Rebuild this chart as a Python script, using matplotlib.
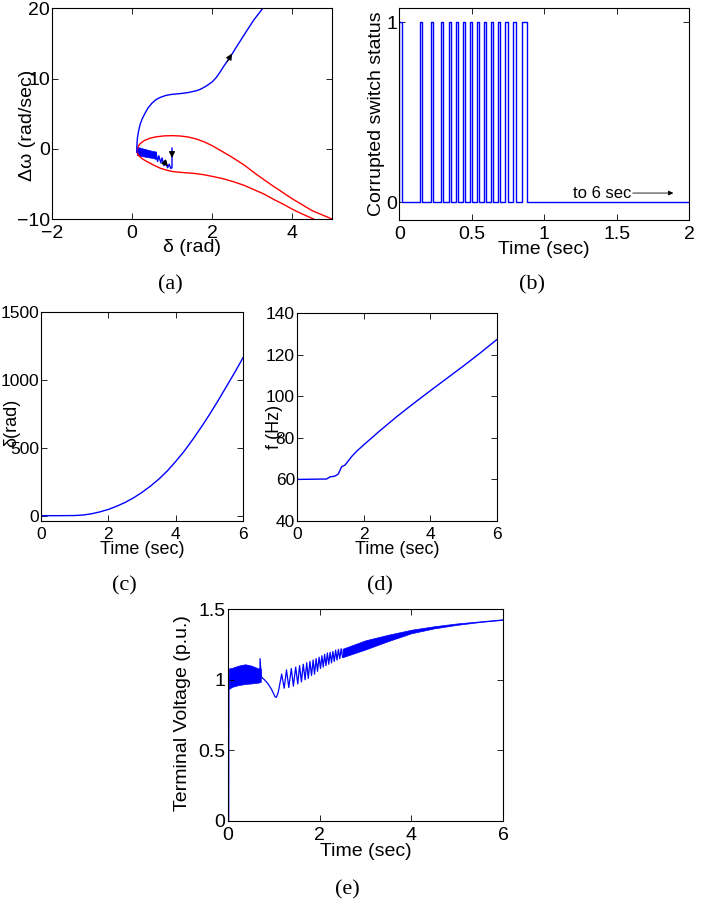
import numpy as np
import matplotlib
matplotlib.use('Agg')
import matplotlib.pyplot as plt
from matplotlib import font_manager

plt.rcParams['font.family'] = ['Liberation Sans', 'DejaVu Sans']
plt.rcParams['axes.linewidth'] = 0.8

W, H = 722, 907
BLUE = (0, 0, 1)
RED = (1, 0, 0)

# narrow font for (c)/(d) if there is one, else a smaller regular one
_names = {f.name for f in font_manager.fontManager.ttflist}
if 'Liberation Sans Narrow' in _names:
    NARROW, NARROW_SIZE = ['Liberation Sans Narrow', 'DejaVu Sans'], 14
else:
    NARROW, NARROW_SIZE = ['Liberation Sans', 'DejaVu Sans'], 12.5

# ---- (a) phase portrait ----
sep_lower_d = [4.54, 4.3, 4.04, 3.8, 3.54, 3.3, 3.04, 2.8, 2.54, 2.3, 2.04, 1.8, 1.54, 1.3,
               1.04, 0.9, 0.71, 0.55, 0.375, 0.25, 0.15, 0.12]
sep_lower_w = [-10.0, -9.4, -8.7, -7.95, -7.2, -6.45, -5.8, -5.2, -4.7, -4.3, -3.97, -3.7,
               -3.5, -3.4, -3.26, -3.1, -2.78, -2.35, -1.83, -1.4, -0.88, -0.3]
sep_upper_d = [0.15, 0.2, 0.3, 0.45, 0.6, 0.8, 1.0, 1.2, 1.4, 1.6, 1.8, 2.0, 2.2, 2.5,
               2.8, 3.1, 3.5, 4.0, 4.5, 5.0]
sep_upper_w = [0.3, 0.7, 1.15, 1.5, 1.7, 1.83, 1.87, 1.82, 1.68, 1.4, 1.0, 0.45, -0.2, -1.2,
               -2.3, -3.6, -5.2, -7.1, -8.8, -10.0]

traj_zig_d = [1.0, 1.0, 0.97, 0.93, 0.89, 0.84, 0.80, 0.75, 0.72, 0.67, 0.64, 0.60]
traj_zig_w = [0.1, -2.7, -2.8, -2.2, -2.7, -1.7, -2.4, -1.3, -2.0, -1.0, -1.8, -0.6]
band_a_d = [0.12, 0.2, 0.3, 0.4, 0.5, 0.6]
band_a_top = [0.3, 0.15, 0.0, -0.15, -0.3, -0.4]
band_a_bot = [-0.9, -1.0, -1.1, -1.2, -1.3, -1.45]
traj_up_d = [0.12, 0.122, 0.135, 0.16, 0.2, 0.25, 0.32, 0.4, 0.5, 0.6, 0.7, 0.85, 1.0, 1.2,
             1.4, 1.6, 1.71, 1.85, 2.0, 2.1, 2.2, 2.3, 2.46, 2.6, 2.79, 3.04, 3.27]
traj_up_w = [-0.5, 0.5, 1.5, 2.4, 3.4, 4.2, 5.0, 5.8, 6.5, 7.0, 7.3, 7.6, 7.75, 7.85,
             8.0, 8.25, 8.47, 8.9, 9.5, 10.1, 10.9, 11.8, 13.1, 14.4, 16.1, 18.3, 20.0]

# ---- (b) switch status: (rise, fall) times ----
pulse_rise = [0.0, 0.143, 0.218, 0.287, 0.343, 0.391, 0.439, 0.487, 0.536,
              0.584, 0.632, 0.680, 0.731, 0.786, 0.844]
pulse_fall = [0.021, 0.159, 0.234, 0.303, 0.359, 0.407, 0.455, 0.503, 0.552,
              0.600, 0.648, 0.697, 0.747, 0.802, 0.878]

# ---- (c) rotor angle ----
c_t = [0, 0.5, 1.0, 1.26, 1.5, 1.75, 2.0, 2.25, 2.5, 2.75, 3.0, 3.25, 3.5, 3.75, 4.0,
       4.25, 4.5, 4.75, 5.0, 5.25, 5.5, 5.75, 6.0]
c_delta = [0, 0, 1, 5, 14, 28, 46, 70, 98, 132, 172, 218, 270, 330, 400,
           475, 560, 650, 745, 845, 950, 1055, 1165]

# ---- (d) frequency ----
d_t = [0, 0.89, 0.99, 1.14, 1.24, 1.34, 1.44, 1.54, 1.64, 1.8, 2.0, 2.5, 3.0, 3.5, 4.0,
       4.5, 5.0, 5.5, 6.0]
d_f = [59.9, 60.1, 61.1, 61.5, 62.5, 66.0, 66.8, 68.8, 70.9, 73.6, 76.5, 83.5, 90.2, 96.5,
       102.6, 108.6, 114.6, 120.8, 127.3]

# ---- (e) terminal voltage ----
e_start_t = [0, 0.02, 0.025]
e_start_v = [0, 0, 1.02]
e_band1_t = [0.025, 0.1, 0.23, 0.38, 0.52, 0.67, 0.72]
e_band1_top = [1.08, 1.085, 1.10, 1.11, 1.10, 1.08, 1.08]
e_band1_bot = [0.935, 0.95, 0.962, 0.97, 0.974, 0.98, 0.985]
e_mid_t = [0.70, 0.705, 0.73, 0.80, 0.87, 0.95, 1.03, 1.06, 1.10, 1.175, 1.23, 1.28, 1.33,
           1.385, 1.43, 1.48, 1.525, 1.565, 1.605, 1.645, 1.685, 1.72, 1.755, 1.79, 1.825,
           1.86, 1.89, 1.925, 1.955, 1.99, 2.02, 2.05, 2.08, 2.11, 2.14, 2.17, 2.20, 2.23,
           2.26, 2.29, 2.32, 2.35, 2.38, 2.41, 2.44, 2.47, 2.50]
e_mid_v = [1.0, 1.15, 1.02, 1.0, 0.975, 0.935, 0.88, 0.875, 0.91, 1.04, 0.94, 1.07, 0.945,
           1.08, 0.955, 1.09, 0.97, 1.10, 0.985, 1.11, 1.0, 1.12, 1.01, 1.13, 1.03,
           1.14, 1.04, 1.15, 1.06, 1.16, 1.08, 1.17, 1.09, 1.18, 1.10, 1.19, 1.11, 1.195,
           1.12, 1.20, 1.13, 1.21, 1.14, 1.215, 1.15, 1.22, 1.16]
e_band2_t = [2.5, 3.0, 3.5, 4.0, 4.5, 5.0, 5.5, 6.0]
e_band2_top = [1.22, 1.28, 1.32, 1.355, 1.38, 1.40, 1.415, 1.43]
e_band2_bot = [1.16, 1.215, 1.275, 1.33, 1.365, 1.39, 1.41, 1.425]


def add_ax(l, t, r, b):
    return fig.add_axes([l / W, 1 - b / H, (r - l) / W, (b - t) / H])


def style(ax, family=None, size=14):
    ax.tick_params(direction='in', length=4, width=0.6, top=True, right=True, labelsize=size)
    ax.tick_params(axis='x', pad=4.5)
    ax.tick_params(axis='y', pad=1.5)
    if family:
        for lab in ax.get_xticklabels() + ax.get_yticklabels():
            lab.set_family(family)


def labels(ax, xl, yl, xpos, ypos, size=14, family=None):
    ax.set_xlabel(xl, fontsize=size)
    ax.set_ylabel(yl, fontsize=size)
    ax.xaxis.set_label_coords(*xpos)
    ax.yaxis.set_label_coords(*ypos)
    ax.xaxis.label.set_va('center')
    ax.yaxis.label.set_va('center')
    if family:
        ax.xaxis.label.set_family(family)
        ax.yaxis.label.set_family(family)


def arrow(ax, x0, y0, x1, y1):
    ax.annotate('', xy=(x1, y1), xytext=(x0, y0),
                arrowprops=dict(arrowstyle='-|>', color='k', lw=0.8,
                                mutation_scale=9, shrinkA=0, shrinkB=0))


fig = plt.figure(figsize=(W / 100, H / 100), dpi=100)

# (a)
ax = add_ax(52, 8.3, 332, 219)
ax.plot(sep_lower_d + sep_upper_d, sep_lower_w + sep_upper_w, color=RED, lw=1.0)
ax.fill_between(band_a_d, band_a_bot, band_a_top, color=BLUE, lw=0.5)
ax.plot(traj_zig_d, traj_zig_w, color=BLUE, lw=1.0)
ax.plot(traj_up_d, traj_up_w, color=BLUE, lw=1.0)
arrow(ax, 1.0, -0.4, 1.0, -1.3)
arrow(ax, 0.80, -1.9, 0.90, -2.5)
arrow(ax, 2.38, 12.4, 2.50, 13.55)
ax.set_xlim(-2, 5)
ax.set_ylim(-10, 20)
ax.set_xticks([-2, 0, 2, 4])
ax.set_yticks([-10, 0, 10, 20])
ax.set_xticklabels(['\u22122', '0', '2', '4'])
ax.set_yticklabels(['\u221210', '0', '10', '20'])
style(ax)
labels(ax, '\u03b4 (rad)', '\u0394\u03c9 (rad/sec)', (0.5, -0.133), (-0.0875, 0.446))

# (b)
ax = add_ax(399.3, 8.3, 689.3, 220)
bt, bv = [], []
for r, f in zip(pulse_rise, pulse_fall):
    bt += [r, r, f, f]
    bv += [0, 1, 1, 0]
bt.append(2.0)
bv.append(0)
ax.plot(bt, bv, color=BLUE, lw=1.0)
ax.annotate('', xy=(1.89, 0.05), xytext=(1.61, 0.05),
            arrowprops=dict(arrowstyle='-|>', color='k', lw=0.6,
                            mutation_scale=7, shrinkA=0, shrinkB=0))
ax.text(1.2, 0.05, 'to 6 sec', fontsize=12, va='center', ha='left')
ax.set_xlim(0, 2)
ax.set_ylim(-0.1, 1.078)
ax.set_xticks([0, 0.5, 1, 1.5, 2])
ax.set_xticklabels(['0', '0.5', '1', '1.5', '2'])
ax.set_yticks([0, 1])
style(ax)
labels(ax, 'Time (sec)', 'Corrupted switch status', (0.5, -0.137), (-0.077, 0.5))

# (c)
ax = add_ax(41, 311.7, 243.3, 520.7)
ax.plot(c_t, c_delta, color=BLUE, lw=1.0)
ax.set_xlim(0, 6)
ax.set_ylim(-37, 1500)
ax.set_xticks([0, 2, 4, 6])
ax.set_yticks([0, 500, 1000, 1500])
style(ax, NARROW, NARROW_SIZE)
labels(ax, 'Time (sec)', '\u03b4(rad)', (0.5, -0.14), (-0.143, 0.467),
       size=NARROW_SIZE + 0.5, family=NARROW)

# (d)
ax = add_ax(297, 313.3, 496.7, 520.7)
ax.plot(d_t, d_f, color=BLUE, lw=1.0)
ax.set_xlim(0, 6)
ax.set_ylim(40, 140)
ax.set_xticks([0, 2, 4, 6])
ax.set_yticks([40, 60, 80, 100, 120, 140])
style(ax, NARROW, NARROW_SIZE)
labels(ax, 'Time (sec)', 'f (Hz)', (0.5, -0.14), (-0.115, 0.45),
       size=NARROW_SIZE + 0.5, family=NARROW)

# (e)
ax = add_ax(227.7, 609.3, 503.3, 820.7)
ax.plot(e_start_t, e_start_v, color=BLUE, lw=1.0)
ax.fill_between(e_band1_t, e_band1_bot, e_band1_top, color=BLUE, lw=0.5)
ax.plot(e_mid_t, e_mid_v, color=BLUE, lw=0.9)
ax.fill_between(e_band2_t, e_band2_bot, e_band2_top, color=BLUE, lw=0.5)
ax.set_xlim(0, 6)
ax.set_ylim(0, 1.5)
ax.set_xticks([0, 2, 4, 6])
ax.set_yticks([0, 0.5, 1, 1.5])
ax.set_yticklabels(['0', '0.5', '1', '1.5'])
style(ax)
labels(ax, 'Time (sec)', 'Terminal Voltage (p.u.)', (0.5, -0.148), (-0.164, 0.51))

# captions
for txt, x, y in [('(a)', 170, 285), ('(b)', 532, 285), ('(c)', 124, 586),
                  ('(d)', 380, 586), ('(e)', 347, 890)]:
    fig.text(x / W, 1 - y / H, txt, fontsize=16, family='Liberation Serif',
             ha='center', va='center')

fig.savefig('out.png', dpi=100)
